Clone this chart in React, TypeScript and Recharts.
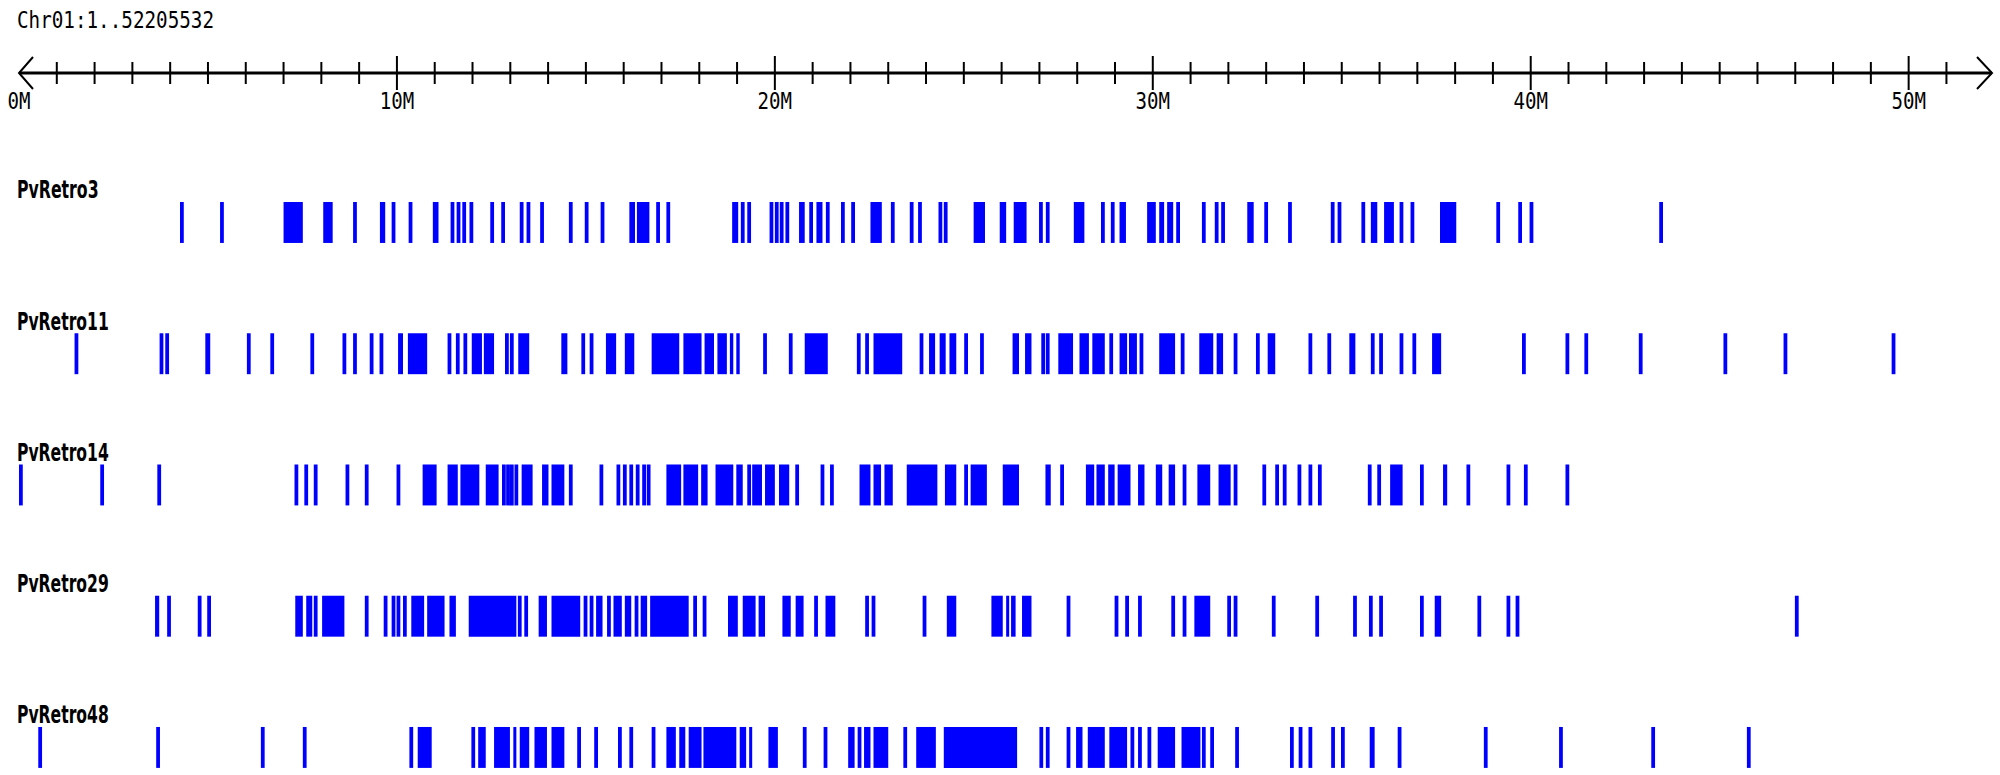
import React from 'react';
import { ScatterChart, Scatter, XAxis, YAxis, ReferenceArea } from 'recharts';

const chromLabel = 'Chr01:1..52205532';
const chromLengthMb = 52.205532;
const trackNames = ['PvRetro3', 'PvRetro11', 'PvRetro14', 'PvRetro29', 'PvRetro48'];
const trackIndex = [0, 1, 2, 3, 4];
const majorTicks = [0, 10, 20, 30, 40, 50];
const minorTicks = [1, 2, 3, 4, 5, 6, 7, 8, 9, 11, 12, 13, 14, 15, 16, 17, 18, 19, 21, 22, 23, 24, 25, 26, 27, 28, 29,
  31, 32, 33, 34, 35, 36, 37, 38, 39, 41, 42, 43, 44, 45, 46, 47, 48, 49, 51];

type Feature = number | [number, number];

// feature positions in Mb; single numbers are narrow elements, pairs are [start, end]
const pvRetro3: Feature[] = [
  4.31, 5.37, [7.0, 7.51], [8.05, 8.3], 8.89, [9.55, 9.69], 9.91, 10.36, [10.95, 11.1], 11.47, 11.63, 11.78, 11.97,
  12.52, 12.81, 13.3, 13.48, 13.84, 14.6, 15.02, 15.44, [16.15, 16.3], [16.35, 16.68], 16.91, 17.18,
  [18.87, 19.03], 19.15, 19.32, 19.91, 20.05, 20.18, 20.33, [20.64, 20.79], 20.96, [21.1, 21.26], 21.4, 21.8, 22.07,
  [22.53, 22.83], 23.12, 23.62, 23.84, 24.38, 24.52, [25.26, 25.56], [25.95, 26.12], [26.32, 26.66], 27.04, 27.22,
  [27.91, 28.19], 28.68, 28.94, [29.12, 29.29], [29.85, 30.08], [30.17, 30.3], [30.38, 30.54], 30.67, 31.35, 31.69,
  31.86, [32.5, 32.67], 33.0, 33.63, 34.76, [34.89, 34.99], 35.57, [35.77, 35.94], [36.12, 36.38], 36.58, 36.87,
  [37.6, 38.03], 39.14, 39.72, 40.02, 43.45,
];

const pvRetro11: Feature[] = [
  1.52, 3.77, 3.92, [4.93, 5.06], 6.08, 6.7, 7.76, 8.61, 8.89, 9.33, 9.59, [10.03, 10.16], [10.29, 10.8], 11.39,
  11.61, 11.81, [11.98, 12.25], [12.3, 12.57], 12.91, 13.04, [13.21, 13.5], [14.35, 14.51], 14.93, 15.15,
  [15.53, 15.8], [16.03, 16.28], [16.74, 17.47], [17.58, 18.06], [18.14, 18.39], [18.48, 18.73], [18.81, 18.9],
  [18.98, 19.07], 19.74, 20.42, [20.79, 21.4], 22.22, 22.44, [22.61, 23.37], 23.88, [24.08, 24.24], [24.36, 24.52],
  [24.62, 24.8], 25.06, 25.48, [26.29, 26.46], [26.62, 26.79], 27.1, 27.22, [27.5, 27.89], [28.06, 28.31],
  [28.4, 28.73], 28.9, [29.12, 29.32], [29.37, 29.58], 29.7, [30.17, 30.59], 30.79, [31.23, 31.6], [31.69, 31.86],
  32.19, 32.78, [33.04, 33.24], 34.17, 34.67, [35.2, 35.36], 35.82, 36.04, 36.58, 36.92, [37.39, 37.63], 39.82,
  40.97, 41.47, 42.91, 45.15, 46.74, 49.6,
];

const pvRetro14: Feature[] = [
  [0.0, 0.1], 2.2, 3.71, 7.34, 7.6, 7.85, 8.69, 9.2, 10.04, [10.68, 11.05], [11.34, 11.61], [11.68, 12.18],
  [12.35, 12.69], 12.83, 12.94, 13.04, 13.16, [13.3, 13.59], [13.84, 14.01], [14.09, 14.43], 14.6, 15.41, 15.86,
  16.03, 16.2, 16.37, 16.54, 16.66, [17.13, 17.52], [17.58, 17.97], [18.05, 18.22], [18.43, 18.9], [18.98, 19.15],
  19.32, [19.4, 19.66], [19.74, 20.0], [20.11, 20.38], 20.59, 21.26, 21.51, [22.24, 22.53], [22.61, 22.81],
  [22.9, 23.12], [23.49, 24.3], [24.5, 24.8], 25.06, [25.18, 25.61], [26.03, 26.46], [27.16, 27.3], 27.6,
  [28.23, 28.45], [28.51, 28.73], [28.82, 28.99], [29.07, 29.41], [29.61, 29.78], [30.08, 30.25], [30.42, 30.59],
  30.84, [31.18, 31.52], [31.74, 32.06], 32.19, 32.95, 33.29, 33.49, 33.88, 34.17, 34.42, 35.74, 35.99,
  [36.28, 36.61], 37.12, [37.68, 37.79], 38.35, 39.41, 39.87, 40.97,
];

const pvRetro29: Feature[] = [
  [3.6, 3.71], [3.92, 4.02], 4.78, 5.03, [7.31, 7.51], [7.6, 7.76], 7.85, [8.02, 8.61], 9.2, 9.7, 9.91, 10.04, 10.21,
  [10.38, 10.72], [10.8, 11.26], [11.39, 11.56], [11.9, 13.16], 13.25, 13.42, [13.75, 13.97], [14.09, 14.85], 14.99,
  15.15, [15.27, 15.44], 15.61, [15.73, 15.95], [16.03, 16.2], 16.34, [16.45, 16.62], [16.7, 17.72], 17.89, 18.14,
  [18.76, 19.02], [19.15, 19.49], [19.57, 19.74], [20.2, 20.42], [20.55, 20.76], 21.09, [21.34, 21.6], 22.44, 22.61,
  23.96, [24.55, 24.8], [25.73, 26.03], [26.12, 26.2], [26.25, 26.37], [26.54, 26.79], 27.77, 29.04, 29.32, 29.66,
  30.54, 30.84, [31.1, 31.52], 32.02, 32.19, 33.2, 34.35, 35.35, 35.77, 36.04, 37.12, [37.46, 37.63], 38.64, 39.41,
  39.65, 47.04,
];

const pvRetro48: Feature[] = [
  0.56, 3.68, 6.45, 7.56, 10.38, [10.55, 10.92], 12.02, [12.15, 12.35], [12.57, 12.99], [13.08, 13.16],
  [13.25, 13.5], [13.64, 13.97], [14.09, 14.43], 14.82, 15.27, 15.9, 16.2, 16.79, [17.13, 17.38], [17.47, 17.63],
  [17.72, 18.06], [18.11, 18.98], [19.07, 19.24], [19.32, 19.4], [19.83, 20.08], 20.79, 21.34, [21.94, 22.11], 22.24,
  [22.36, 22.53], [22.61, 23.0], 23.45, [23.74, 24.26], [24.47, 26.41], 27.05, 27.22, 27.77, [27.97, 28.14],
  [28.28, 28.73], [28.85, 29.32], 29.46, 29.66, 29.91, [30.13, 30.59], [30.76, 31.26], 31.35, 31.57, 32.23, 33.68,
  33.91, 34.17, 34.77, 35.03, [35.74, 35.87], 36.53, 38.81, 40.8, 43.24, 45.77,
];

const trackFeatures: Feature[][] = [pvRetro3, pvRetro11, pvRetro14, pvRetro29, pvRetro48];

const NARROW = 0.1;
const HALF_H = 0.156;
const BLUE = '#0000ff';
const AXIS_FONT = '"DejaVu Sans Mono", monospace';
const LABEL_FONT = '"DejaVu Sans", sans-serif';

const toInterval = (f: Feature): [number, number] =>
  typeof f === 'number' ? [f - NARROW / 2, f + NARROW / 2] : f;

const XTick = (props: any) => {
  const { x, y, payload } = props;
  const v = payload.value;
  if (v === 0) {
    return (
      <g>
        <path d={`M${x + 14},${y - 16} L${x},${y} L${x + 14},${y + 16}`} stroke="#000" strokeWidth={2} fill="none" />
        <text x={x} y={y + 36} textAnchor="middle" fontFamily={AXIS_FONT} fontSize={23} textLength={23}
          lengthAdjust="spacingAndGlyphs" fill="#000">0M</text>
        <text x={x - 2} y={y - 45} fontFamily={AXIS_FONT} fontSize={23} textLength={197}
          lengthAdjust="spacingAndGlyphs" fill="#000">{chromLabel}</text>
      </g>
    );
  }
  if (Math.abs(v - chromLengthMb) < 1e-6) {
    return (
      <path d={`M${x - 15},${y - 16} L${x},${y} L${x - 15},${y + 16}`} stroke="#000" strokeWidth={2} fill="none" />
    );
  }
  if (majorTicks.includes(v)) {
    const label = `${v}M`;
    return (
      <g>
        <line x1={x} x2={x} y1={y - 17} y2={y + 17} stroke="#000" strokeWidth={2} />
        <text x={x} y={y + 36} textAnchor="middle" fontFamily={AXIS_FONT} fontSize={23}
          textLength={label.length * 11.5} lengthAdjust="spacingAndGlyphs" fill="#000">{label}</text>
      </g>
    );
  }
  return <line x1={x} x2={x} y1={y - 11} y2={y + 11} stroke="#000" strokeWidth={2} />;
};

const YTick = (props: any) => {
  const { y, payload } = props;
  const name = trackNames[payload.value];
  if (!name) return null;
  return (
    <text x={17} y={y - 24} fontFamily={LABEL_FONT} fontWeight="bold" fontSize={25}
      textLength={name.length * 10.2} lengthAdjust="spacingAndGlyphs" fill="#000">{name}</text>
  );
};

const NoShape = () => null;

export default function App() {
  const xTicks = [0, ...minorTicks, ...majorTicks.filter((t) => t !== 0), chromLengthMb].sort((a, b) => a - b);
  const anchorPoints = trackFeatures.map((features, ti) =>
    features.map((f) => {
      const [s, e] = toInterval(f);
      return { pos: (s + e) / 2, track: trackIndex[ti] };
    })
  );
  return (
    <div style={{ position: 'absolute', left: 0, top: 0, width: 2000, height: 775, background: '#fff' }}>
      <ScatterChart width={2000} height={775} margin={{ top: 33, right: 8, bottom: 0, left: 0 }}>
        <XAxis
          xAxisId={0}
          dataKey="pos"
          type="number"
          orientation="top"
          domain={[0, chromLengthMb]}
          ticks={xTicks}
          interval={0}
          height={40}
          tickSize={0}
          tickMargin={0}
          tickLine={false}
          axisLine={{ stroke: '#000', strokeWidth: 3 }}
          tick={<XTick />}
          allowDataOverflow
        />
        <YAxis
          yAxisId={0}
          dataKey="track"
          type="number"
          domain={[-1.139, 4.21]}
          reversed
          ticks={trackIndex}
          interval={0}
          width={19}
          tickSize={0}
          tickMargin={0}
          tickLine={false}
          axisLine={false}
          tick={<YTick />}
          allowDataOverflow
        />
        {anchorPoints.map((pts, ti) => (
          <Scatter key={`s-${ti}`} xAxisId={0} yAxisId={0} data={pts} shape={<NoShape />} isAnimationActive={false} />
        ))}
        {trackFeatures.map((features, ti) =>
          features.map((f, fi) => {
            const [s, e] = toInterval(f);
            return (
              <ReferenceArea
                key={`${ti}-${fi}`}
                xAxisId={0}
                yAxisId={0}
                x1={s}
                x2={e}
                y1={trackIndex[ti] - HALF_H}
                y2={trackIndex[ti] + HALF_H}
                fill={BLUE}
                fillOpacity={1}
                stroke="none"
                ifOverflow="visible"
              />
            );
          })
        )}
      </ScatterChart>
    </div>
  );
}
